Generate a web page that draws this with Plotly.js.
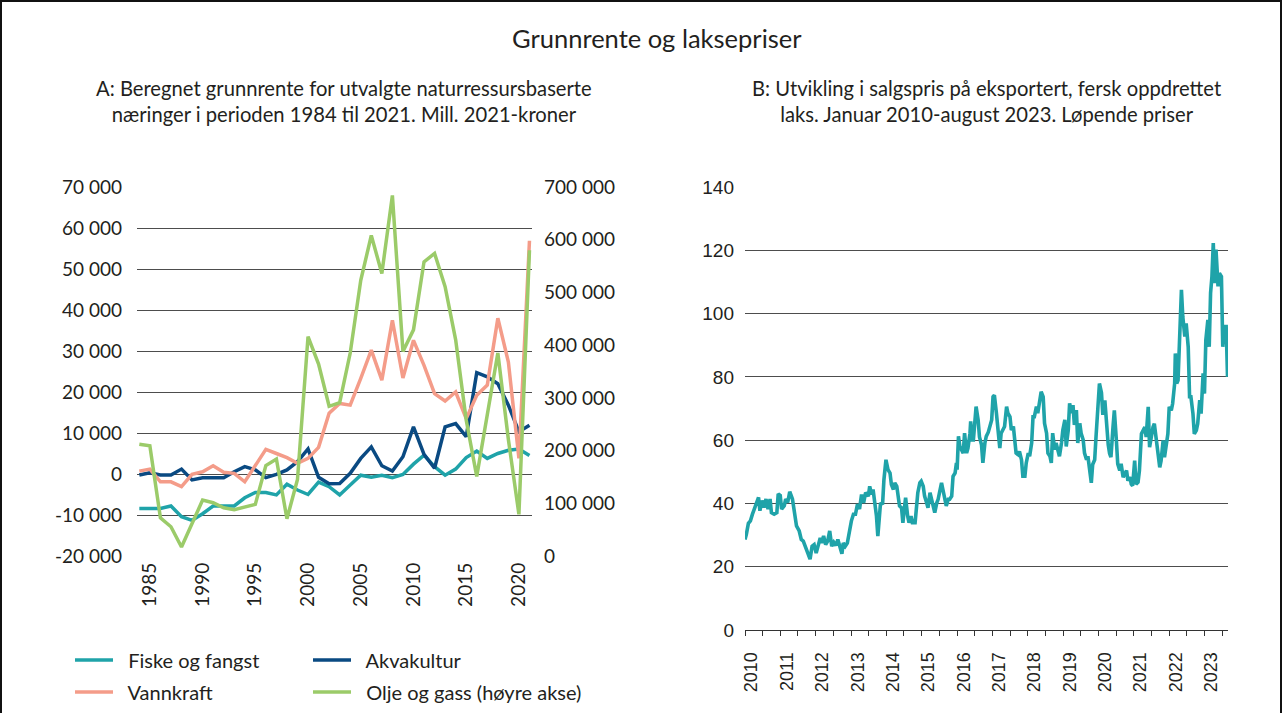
<!DOCTYPE html>
<html>
<head>
<meta charset="utf-8">
<script src="https://cdn.plot.ly/plotly-3.0.1.min.js"></script>
<style>
  html, body { margin: 0; padding: 0; background: #fff; }
  #wrap { position: relative; width: 1282px; height: 713px; overflow: hidden; }
  #chart { position: absolute; left: 0; top: 0; width: 1282px; height: 713px; }
  #frame { position: absolute; left: 0; top: 0; width: 1278px; height: 720px; border: 2px solid #111; pointer-events: none; }
</style>
</head>
<body>
<div id="wrap"><div id="chart"></div><div id="frame"></div></div>
<script>
// ---- Panel A: resource rent 1984-2021 (mill. 2021-kroner) ----
const years = [1984,1985,1986,1987,1988,1989,1990,1991,1992,1993,1994,1995,1996,1997,1998,1999,2000,2001,2002,2003,2004,2005,2006,2007,2008,2009,2010,2011,2012,2013,2014,2015,2016,2017,2018,2019,2020,2021];
const fiske = [-8400,-8400,-8400,-7800,-10400,-11300,-9700,-7800,-7800,-7800,-5800,-4500,-4500,-5100,-2500,-3900,-5000,-2000,-3100,-5100,-2700,-300,-800,-300,-900,-100,2400,4600,1800,-300,1200,4000,5600,3800,5000,5800,6100,4500];
const akva = [-250,300,-250,-250,1200,-1450,-900,-900,-900,550,1800,1000,-900,-100,1000,3000,6100,-800,-2400,-2300,150,3800,6600,2000,700,4200,11500,4800,1400,11500,12300,9100,24700,23700,22000,16800,10300,11900];
const vann = [700,1200,-1900,-1900,-3100,-100,550,2000,400,150,-1900,2200,6000,5000,4000,2600,3800,6500,14800,17200,16800,23300,30200,22900,37500,23400,32600,26500,19600,17800,20000,13500,19200,21700,38000,27300,3800,56900];
const olje = [212000,209000,72500,55500,17000,60000,106000,101000,91500,88000,93000,98000,171500,184000,70600,145000,416000,364000,284000,291000,385000,523000,608000,536000,684000,388000,429000,558000,574000,511000,410000,258000,151000,271000,385000,221000,79000,580000];
const leftTickVals = [-20000,-10000,0,10000,20000,30000,40000,50000,60000,70000];
const leftTickText = ['-20 000','-10 000','0','10 000','20 000','30 000','40 000','50 000','60 000','70 000'];
const rightTickVals = [0,100000,200000,300000,400000,500000,600000,700000];
const rightTickText = ['0','100 000','200 000','300 000','400 000','500 000','600 000','700 000'];
const yearTicks = [1985,1990,1995,2000,2005,2010,2015,2020];

// ---- Panel B: weekly export price of fresh farmed salmon (NOK/kg) ----
// week number counted from the first week of January 2010
const salmonWeek = [0,2,5,8,11,15,17,20,22,25,28,31,34,37,39,43,47,49,52,54,58,60,63,66,70,73,76,80,83,86,89,92,96,99,102,105,108,111,113,116,119,122,125,128,131,134,137,140,143,145,148,151,154,157,160,163,166,169,
172,175,178,182,184,187,189,192,194,196,198,200,203,205,208,211,214,216,219,221,224,226,228,231,233,235,237,240,242,245,247,251,253,255,258,260,263,265,268,270,273,275,278,280,283,285,287,290,292,295,297,300,302,305,307,310,312,313,315,317,319,322,324,327,329,332,333,335,337,339,341,344,
346,349,351,354,356,359,361,364,366,368,371,373,376,378,381,383,386,388,391,393,396,398,400,403,405,408,410,413,415,418,420,423,425,427,430,432,435,437,440,442,445,447,450,452,454,457,459,462,464,467,469,472,474,477,479,482,484,486,489,491,494,496,499,501,504,506,509,511,513,516,518,521,
523,526,528,531,533,536,538,540,543,545,548,550,553,555,558,560,563,565,568,570,572,575,577,580,582,585,587,590,592,595,597,599,602,604,607,609,612,614,617,619,622,624,626,629,631,634,635,637,639,641,644,646,649,651,654,656,658,661,663,666,668,671,673,676,678,680,683,685,687,689,691,693,695,698,700,703,705,707,710,712];
const salmonPrice = [28.6,30.2,33.7,34.5,36.6,39.3,40.3,41.9,37.7,40.9,38.7,41.4,38.2,41.4,37.1,36.6,37.1,43.0,42.5,38.2,39.3,41.4,40.3,43.7,41.4,37.1,32.9,31.3,28.6,28.1,26.5,24.3,22.4,26.5,27.0,24.3,26.5,29.1,27.5,29.7,27.0,28.1,31.3,26.5,27.7,26.7,28.6,26.5,24.1,27.5,26.5,27.5,31.8,34.5,36.6,36.6,39.8,38.2,
42.8,40.2,43.4,42.3,45.4,42.8,44.4,40.2,36.0,29.7,36.0,40.2,39.7,47.5,53.8,50.7,49.6,46.0,44.4,46.5,45.4,42.8,39.2,38.6,33.9,38.1,41.8,36.0,33.9,36.0,33.9,33.9,38.1,43.4,46.5,47.0,45.4,42.3,40.2,38.6,43.4,41.3,38.1,37.1,40.2,41.3,43.4,46.5,44.4,40.2,39.2,41.3,41.3,42.3,48.6,49.6,52.8,50.7,61.2,58.0,57.0,55.9,62.2,55.9,57.5,62.2,65.9,60.1,60.1,66.4,70.6,66.4,
61.0,58.5,52.8,59.1,61.2,62.5,64.0,66.4,73.7,74.2,68.5,64.3,57.5,62.2,63.8,64.3,70.6,68.5,67.4,63.2,64.3,59.1,55.9,55.4,56.4,53.8,48.6,48.6,52.8,55.9,54.9,59.1,67.4,67.4,70.6,68.5,73.7,75.3,73.7,65.3,62.2,55.9,54.9,52.8,62.2,57.0,59.1,57.0,54.9,59.1,63.2,66.4,58.0,63.2,71.6,68.5,71.1,64.8,69.5,59.1,65.3,62.2,60.1,55.9,53.8,54.9,50.7,46.5,52.3,53.8,61.2,73.7,
77.9,75.0,68.0,72.6,65.0,58.5,55.8,54.6,64.1,69.4,59.9,52.5,50.4,52.5,48.3,49.3,50.4,47.2,48.3,46.1,45.6,53.5,46.1,46.7,50.4,62.0,63.1,64.1,61.0,70.5,57.8,61.0,64.1,65.2,59.9,54.6,51.4,53.5,59.9,54.6,58.8,62.0,70.5,69.4,71.5,77.9,87.4,77.9,78.9,89.5,107.5,99.0,92.7,96.9,89.5,73.7,73.7,68.4,62.0,63.1,65.2,72.6,68.4,81.1,74.7,91.6,98.0,89.5,106.5,111.7,122.3,109.6,120.2,108.6,112.8,111.7,89.5,95.9,95.9,80.0];
const salmonYears = [2010,2011,2012,2013,2014,2015,2016,2017,2018,2019,2020,2021,2022,2023];

function weekToDate(w) {
  return new Date(Date.UTC(2010, 0, 1) + w * 7 * 86400000).toISOString().slice(0, 10);
}
const salmonDates = salmonWeek.map(weekToDate);

const FONT_A = 'Lato, "Open Sans", sans-serif';
const FONT_B = '"Liberation Sans", Arial, sans-serif';
const TXT = '#231f20';
const GRID = '#4d4d4d';
const GAP = '\u00a0\u00a0';

const traces = [
  {x: years, y: fiske, name: GAP + 'Fiske og fangst', type: 'scatter', mode: 'lines', xaxis: 'x', yaxis: 'y',
   line: {color: '#1fa3a9', width: 3.5}, legend: 'legend'},
  {x: years, y: akva, name: GAP + 'Akvakultur', type: 'scatter', mode: 'lines', xaxis: 'x', yaxis: 'y',
   line: {color: '#0a4a82', width: 3.5}, legend: 'legend2'},
  {x: years, y: vann, name: GAP + 'Vannkraft', type: 'scatter', mode: 'lines', xaxis: 'x', yaxis: 'y',
   line: {color: '#f49c89', width: 3.5}, legend: 'legend3'},
  {x: years, y: olje, name: GAP + 'Olje og gass (høyre akse)', type: 'scatter', mode: 'lines', xaxis: 'x', yaxis: 'y2',
   line: {color: '#9bcb69', width: 3.5}, legend: 'legend4'},
  {x: salmonDates, y: salmonPrice, name: 'Laks', type: 'scatter', mode: 'lines', xaxis: 'x2', yaxis: 'y3',
   line: {color: '#1fa3a9', width: 3.6}, showlegend: false}
];

const W = 1282, H = 713;
const px = v => v / W;
const py = v => 1 - v / H;

function legendAt(x, y) {
  return {x: px(x), y: py(y), xanchor: 'left', yanchor: 'middle', bgcolor: 'rgba(0,0,0,0)',
          font: {family: FONT_A, size: 20, color: TXT}, itemwidth: 38, orientation: 'v'};
}

const layout = {
  width: W, height: H,
  margin: {l: 0, r: 0, t: 0, b: 0},
  paper_bgcolor: '#fff', plot_bgcolor: '#fff',
  font: {family: FONT_A, color: TXT},
  xaxis: {domain: [px(137), px(532)], range: [1983.78, 2021.24], anchor: 'y',
          tickmode: 'array', tickvals: yearTicks, tickangle: -90, showgrid: false, zeroline: false,
          showline: false, ticks: '', ticklabelstandoff: 2, tickfont: {family: FONT_A, size: 19, color: TXT}},
  yaxis: {domain: [py(556), py(187)], range: [-20000, 70000], anchor: 'x',
          tickmode: 'array', tickvals: leftTickVals, ticktext: leftTickText,
          showgrid: true, gridcolor: GRID, gridwidth: 1, zeroline: false, showline: false, ticks: '',
          ticklabelstandoff: 14, tickfont: {family: FONT_A, size: 19, color: TXT}},
  yaxis2: {overlaying: 'y', side: 'right', anchor: 'x', range: [0, 700000],
           tickmode: 'array', tickvals: rightTickVals, ticktext: rightTickText,
           showgrid: false, zeroline: false, showline: false, ticks: '',
           ticklabelstandoff: 11, tickfont: {family: FONT_A, size: 19, color: TXT}},
  xaxis2: {domain: [px(745), px(1228)], type: 'date', range: ['2010-01-01', '2023-08-30'], anchor: 'y3',
           tickmode: 'array', tickvals: salmonYears.map(y => y + '-03-10'), ticktext: salmonYears.map(String),
           tickangle: -90, showgrid: false, zeroline: false, showline: true, linecolor: '#333', linewidth: 1,
           ticks: '', ticklabelstandoff: 14,
           minor: {ticks: 'outside', tickmode: 'linear', tick0: '2010-01-01', dtick: 'M6', ticklen: 5, tickcolor: '#333', tickwidth: 1, showgrid: false},
           tickfont: {family: FONT_B, size: 18, color: TXT}},
  yaxis3: {domain: [py(630), py(187)], range: [0, 140], anchor: 'x2', dtick: 20, tick0: 0,
           showgrid: true, gridcolor: GRID, gridwidth: 1, zeroline: false, showline: false, ticks: '',
           ticklabelstandoff: 10, tickfont: {family: FONT_B, size: 19, color: TXT}},
  legend: legendAt(70, 660),
  legend2: legendAt(308, 660),
  legend3: legendAt(70, 692),
  legend4: legendAt(308, 692),
  annotations: [
    {text: 'Grunnrente og laksepriser', x: px(657), y: py(38), xref: 'paper', yref: 'paper',
     showarrow: false, xanchor: 'center', yanchor: 'middle', font: {family: FONT_A, size: 25.5, color: TXT}},
    {text: 'A: Beregnet grunnrente for utvalgte naturressursbaserte<br>næringer i perioden 1984 til 2021. Mill. 2021-kroner',
     x: px(344), y: py(101), xref: 'paper', yref: 'paper', showarrow: false, xanchor: 'center', yanchor: 'middle',
     align: 'center', font: {family: FONT_A, size: 20.2, color: TXT}},
    {text: 'B: Utvikling i salgspris på eksportert, fersk oppdrettet<br>laks. Januar 2010-august 2023. Løpende priser',
     x: px(987), y: py(101), xref: 'paper', yref: 'paper', showarrow: false, xanchor: 'center', yanchor: 'middle',
     align: 'center', font: {family: FONT_A, size: 20.2, color: TXT}}
  ]
};

Plotly.newPlot('chart', traces, layout, {displayModeBar: false, staticPlot: true});
</script>
</body>
</html>
